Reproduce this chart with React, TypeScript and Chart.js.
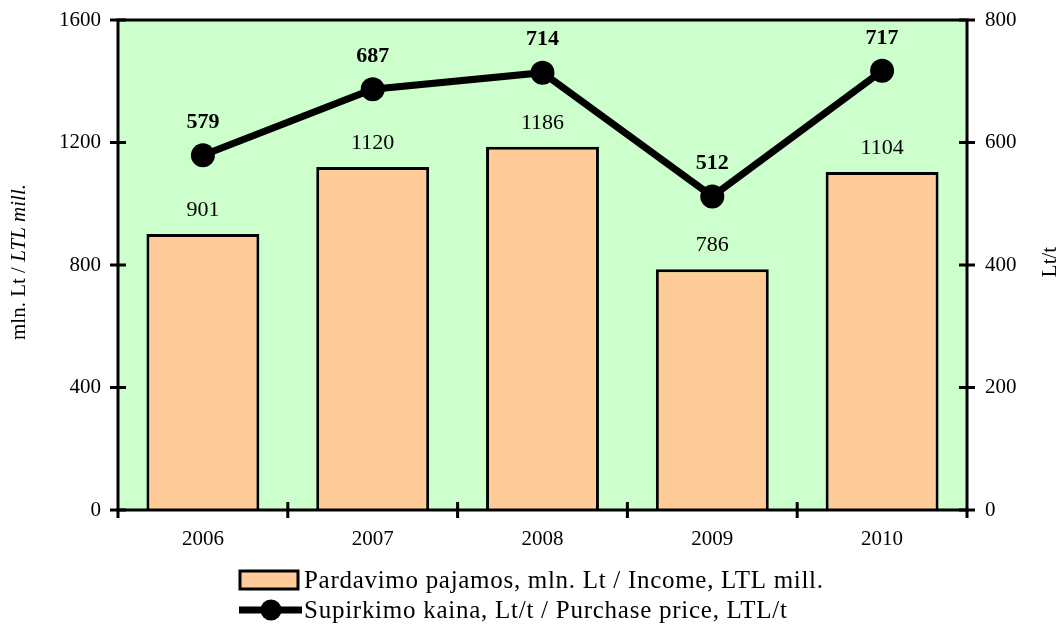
import React, { useEffect, useRef } from "react";
import { Chart, registerables } from "chart.js";

Chart.register(...registerables);

const categories = ["2006", "2007", "2008", "2009", "2010"];
const incomeValues = [901, 1120, 1186, 786, 1104];
const priceValues = [579, 687, 714, 512, 717];
const leftTicks = [0, 400, 800, 1200, 1600];
const rightTicks = [0, 200, 400, 600, 800];
const incomeLabel = "Pardavimo pajamos, mln. Lt / Income, LTL mill.";
const priceLabel = "Supirkimo kaina, Lt/t / Purchase price, LTL/t";

const FONT = "'Liberation Serif', 'Times New Roman', serif";
const BAR_COLOR = "#FFCC99";
const BG_COLOR = "#CCFFCC";

const decorPlugin = {
  id: "decor",
  beforeDraw(chart: any) {
    const { ctx, chartArea: a } = chart;
    ctx.save();
    ctx.fillStyle = BG_COLOR;
    ctx.fillRect(a.left, a.top, a.right - a.left, a.bottom - a.top);
    ctx.restore();
  },
  afterDatasetsDraw(chart: any) {
    const { ctx, chartArea: a, scales } = chart;
    ctx.save();
    ctx.strokeStyle = "#000";
    ctx.lineWidth = 3;
    ctx.strokeRect(a.left, a.top, a.right - a.left, a.bottom - a.top);
    ctx.lineWidth = 3;
    ctx.beginPath();
    for (const v of leftTicks) {
      const y = scales.y.getPixelForValue(v);
      ctx.moveTo(a.left - 8, y);
      ctx.lineTo(a.left + 8, y);
    }
    for (const v of rightTicks) {
      const y = scales.y1.getPixelForValue(v);
      ctx.moveTo(a.right - 8, y);
      ctx.lineTo(a.right + 8, y);
    }
    const n = categories.length;
    const step = (a.right - a.left) / n;
    for (let i = 0; i <= n; i++) {
      const x = a.left + step * i;
      ctx.moveTo(x, a.bottom - (i === 0 || i === n ? 0 : 8));
      ctx.lineTo(x, a.bottom + 8);
    }
    ctx.stroke();
    ctx.restore();
  },
  afterDraw(chart: any) {
    const { ctx } = chart;
    ctx.save();
    ctx.fillStyle = "#000";
    ctx.textAlign = "center";
    ctx.textBaseline = "middle";
    // bar labels
    ctx.font = `22px ${FONT}`;
    const barMeta = chart.getDatasetMeta(0);
    barMeta.data.forEach((el: any, i: number) => {
      ctx.fillText(String(incomeValues[i]), el.x, el.y - 24);
    });
    // line labels
    ctx.font = `bold 22px ${FONT}`;
    const lineMeta = chart.getDatasetMeta(1);
    lineMeta.data.forEach((el: any, i: number) => {
      ctx.fillText(String(priceValues[i]), el.x, el.y - 33);
    });

    // left axis title
    ctx.save();
    ctx.translate(19, 262);
    ctx.rotate(-Math.PI / 2);
    ctx.font = `21px ${FONT}`;
    const p1 = "mln. Lt / ";
    const w1 = ctx.measureText(p1).width;
    ctx.font = `italic 21px ${FONT}`;
    const p2 = "LTL mill.";
    const w2 = ctx.measureText(p2).width;
    const start = -(w1 + w2) / 2;
    ctx.textAlign = "left";
    ctx.font = `21px ${FONT}`;
    ctx.fillText(p1, start, 0);
    ctx.font = `italic 21px ${FONT}`;
    ctx.fillText(p2, start + w1, 0);
    ctx.restore();

    // right axis title
    ctx.save();
    ctx.translate(1050, 262);
    ctx.rotate(-Math.PI / 2);
    ctx.font = `21px ${FONT}`;
    ctx.textAlign = "center";
    ctx.fillText("Lt/t", 0, 0);
    ctx.restore();

    // legend
    ctx.fillStyle = BAR_COLOR;
    ctx.fillRect(240, 571, 58, 18);
    ctx.strokeStyle = "#000";
    ctx.lineWidth = 3;
    ctx.strokeRect(240, 571, 58, 18);
    ctx.beginPath();
    ctx.lineWidth = 7;
    ctx.moveTo(239, 610);
    ctx.lineTo(302, 610);
    ctx.stroke();
    ctx.beginPath();
    ctx.fillStyle = "#000";
    ctx.arc(271, 610, 10.5, 0, Math.PI * 2);
    ctx.fill();

    ctx.font = `25px ${FONT}`;
    ctx.textAlign = "left";
    ctx.textBaseline = "alphabetic";
    const drawFit = (text: string, x: number, y: number, target: number) => {
      (ctx as any).letterSpacing = "0px";
      const w = ctx.measureText(text).width;
      const sp = Math.max(-1, Math.min(2, (target - w) / (text.length - 1)));
      (ctx as any).letterSpacing = `${sp}px`;
      ctx.fillText(text, x, y);
      (ctx as any).letterSpacing = "0px";
    };
    drawFit(incomeLabel, 304, 588, 519);
    drawFit(priceLabel, 304, 618, 483);
    ctx.restore();
  },
};

export default function App() {
  const ref = useRef<HTMLCanvasElement>(null);
  useEffect(() => {
    if (!ref.current) return;
    const tickFont = { family: FONT, size: 21 };
    const plain = (v: any) => String(v);
    const chart = new Chart(ref.current, {
      type: "bar",
      data: {
        labels: categories,
        datasets: [
          {
            type: "bar",
            label: incomeLabel,
            data: incomeValues,
            backgroundColor: BAR_COLOR,
            borderColor: "#000",
            borderWidth: 3,
            categoryPercentage: 1,
            barPercentage: 0.665,
            yAxisID: "y",
            order: 1,
          },
          {
            type: "line",
            label: priceLabel,
            data: priceValues,
            borderColor: "#000",
            borderWidth: 7,
            pointRadius: 12,
            pointBackgroundColor: "#000",
            pointBorderWidth: 0,
            tension: 0,
            yAxisID: "y1",
            order: 0,
          } as any,
        ],
      },
      options: {
        animation: false,
        responsive: false,
        layout: { padding: { top: 20, left: 0, right: 0, bottom: 0 } },
        plugins: { legend: { display: false }, tooltip: { enabled: false } },
        scales: {
          x: {
            offset: true,
            grid: { display: false, drawTicks: false },
            border: { display: false },
            ticks: { font: tickFont, color: "#000", padding: 17 },
            afterFit: (s: any) => {
              s.height = 116;
              s.paddingLeft = 0;
              s.paddingRight = 0;
            },
          },
          y: {
            position: "left",
            min: 0,
            max: 1600,
            grid: { display: false, drawTicks: false },
            border: { display: false },
            ticks: { stepSize: 400, font: tickFont, color: "#000", padding: 17, callback: plain },
            afterFit: (s: any) => {
              s.width = 118;
              s.paddingTop = 0;
              s.paddingBottom = 0;
            },
          },
          y1: {
            position: "right",
            min: 0,
            max: 800,
            grid: { display: false, drawTicks: false },
            border: { display: false },
            ticks: { stepSize: 200, font: tickFont, color: "#000", padding: 18, callback: plain },
            afterFit: (s: any) => {
              s.width = 92;
              s.paddingTop = 0;
              s.paddingBottom = 0;
            },
          },
        },
      } as any,
      plugins: [decorPlugin],
    });
    return () => chart.destroy();
  }, []);
  return (
    <div style={{ position: "absolute", left: 0, top: 0, width: 1059, height: 626, background: "#fff" }}>
      <canvas ref={ref} width={1059} height={626} style={{ display: "block" }} />
    </div>
  );
}
